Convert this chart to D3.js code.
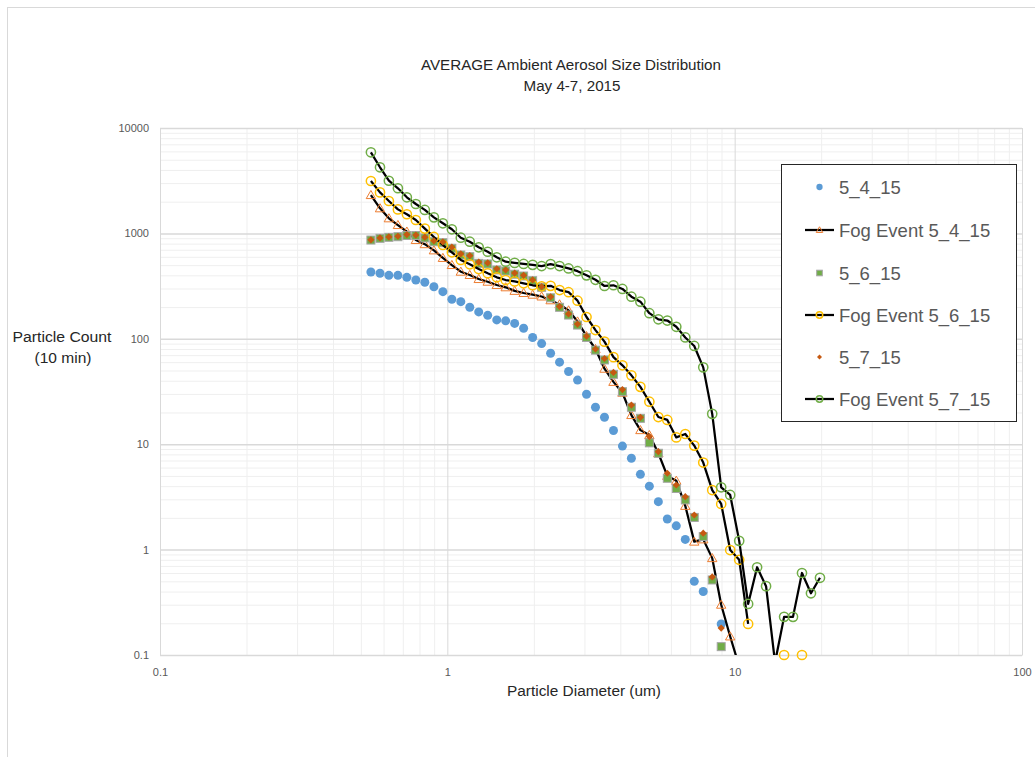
<!DOCTYPE html>
<html><head><meta charset="utf-8">
<script src="https://cdn.jsdelivr.net/npm/d3@7"></script>
<style>body{margin:0;background:#fff;overflow:hidden} svg{display:block}</style>
</head><body>
<script>
// Particle diameter bins (um)
const diameters = [0.542,0.583,0.626,0.673,0.723,0.777,0.835,0.898,0.965,1.037,1.114,1.197,1.286,1.382,1.486,1.596,1.715,1.843,1.981,2.129,2.288,2.458,2.642,2.839,3.051,3.278,3.523,3.786,4.068,4.371,4.698,5.048,5.425,5.829,6.264,6.732,7.234,7.774,8.354,8.977,9.647,10.37,11.14,11.97,12.86,13.82,14.86,15.96,17.15,18.43,19.81];

const s_5_4_15 = [430,419,400,400,383,361,344,312,280,237,225,199,180,167,151,148,140,126,103,90,73,60,49,40.6,29.8,22.4,18.0,13.5,9.6,7.35,5.18,4.0,2.85,1.95,1.68,1.25,0.50,0.40,null,0.197,null,null,null,null,null,null,null,null,null,null,null];
const fog_5_4_15 = [2310,1730,1390,1200,1040,865,790,690,585,501,433,403,369,348,324,308,285,272,262,252,232,212,186,146,106,80,52,39,30.8,18.9,13.6,12.2,8.2,5.0,4.5,2.6,1.19,1.25,0.83,0.30,0.15,0.078,null,null,null,null,null,null,null,null,null];
const s_5_6_15 = [865,898,918,930,955,955,905,834,816,722,624,601,520,513,450,440,410,394,356,308,245,199,168,135,103,78,63,46,31.5,22.4,17.6,10.3,8.2,4.75,3.8,2.96,2.02,1.33,0.515,0.12,null,null,null,null,null,null,null,null,null,null,null];
const fog_5_6_15 = [3140,2450,2030,1690,1520,1340,1110,925,776,662,560,509,459,418,383,361,350,336,322,315,318,290,277,230,161,121,94,67,56,45,35,25.3,18.1,17.0,11.6,12.5,9.7,6.7,3.67,2.71,0.99,0.80,0.197,null,null,null,0.1,null,0.1,null,null];
const s_5_7_15 = [870,905,925,940,975,965,920,850,830,740,640,615,535,525,462,450,420,400,362,312,250,203,172,138,106,80,65,48,33,23.5,18,11.8,8.5,5.3,4.1,3.18,2.13,1.43,0.55,0.18,null,null,null,null,null,null,null,null,null,null,null];
const fog_5_7_15 = [5880,4240,3160,2680,2200,1900,1670,1420,1247,1094,910,834,738,670,593,539,525,513,503,490,511,490,465,438,400,363,317,322,297,251,225,175,153,149,130,103,85.5,53.6,19.4,3.9,3.3,1.21,0.305,0.68,0.45,0.085,0.23,0.23,0.60,0.385,0.54];

const seriesNames = ["5_4_15","Fog Event 5_4_15","5_6_15","Fog Event 5_6_15","5_7_15","Fog Event 5_7_15"];
const xTicks = [0.1,1,10,100];
const xTickLabels = ["0.1","1","10","100"];
const yTicks = [0.1,1,10,100,1000,10000];
const yTickLabels = ["0.1","1","10","100","1000","10000"];
const titleLines = ["AVERAGE Ambient Aerosol Size Distribution","May 4-7, 2015"];
const xTitle = "Particle Diameter (um)";
const yTitleLines = ["Particle Count","(10 min)"];

const W=1035,H=757;
const L=160,R=1022,T=128,B=655;
const svg = d3.select("body").append("svg").attr("width",W).attr("height",H);
const font = "'Liberation Sans', Arial, sans-serif";

// chart area frame
svg.append("rect").attr("x",7.5).attr("y",7.5).attr("width",W+20).attr("height",H+20)
  .attr("fill","#fff").attr("stroke","#d9d9d9").attr("stroke-width",1);

const x = d3.scaleLog().domain([0.1,100]).range([L,R]);
const y = d3.scaleLog().domain([0.1,10000]).range([B,T]);

// minor grid values
const xMinor=[], yMinor=[];
[0.1,1,10].forEach(d=>{for(let k=2;k<=9;k++) xMinor.push(d*k);});
[0.1,1,10,100,1000].forEach(d=>{for(let k=2;k<=9;k++) yMinor.push(d*k);});

const grid = svg.append("g");
grid.append("g").attr("transform",`translate(0,${B})`)
  .call(d3.axisBottom(x).tickValues(xMinor).tickSize(-(B-T)).tickFormat(""))
  .call(g=>{g.select(".domain").remove(); g.selectAll("line").attr("stroke","#efefef").attr("stroke-width",1);});
grid.append("g").attr("transform",`translate(${L},0)`)
  .call(d3.axisLeft(y).tickValues(yMinor).tickSize(-(R-L)).tickFormat(""))
  .call(g=>{g.select(".domain").remove(); g.selectAll("line").attr("stroke","#efefef").attr("stroke-width",1);});
grid.append("g").attr("transform",`translate(0,${B})`)
  .call(d3.axisBottom(x).tickValues(xTicks).tickSize(-(B-T)).tickFormat(""))
  .call(g=>{g.select(".domain").remove(); g.selectAll("line").attr("stroke","#d9d9d9").attr("stroke-width",1);});
grid.append("g").attr("transform",`translate(${L},0)`)
  .call(d3.axisLeft(y).tickValues(yTicks).tickSize(-(R-L)).tickFormat(""))
  .call(g=>{g.select(".domain").remove(); g.selectAll("line").attr("stroke","#d9d9d9").attr("stroke-width",1.5);});

// axis labels
const xAx = svg.append("g").attr("transform",`translate(0,${B})`)
  .call(d3.axisBottom(x).tickValues(xTicks).tickSize(0).tickPadding(13).tickFormat((d,i)=>xTickLabels[i]));
xAx.select(".domain").attr("stroke","#d9d9d9");
xAx.selectAll("text").attr("font-family",font).attr("font-size",11).attr("fill","#595959");
const yAx = svg.append("g").attr("transform",`translate(${L},0)`)
  .call(d3.axisLeft(y).tickValues(yTicks).tickSize(0).tickPadding(11).tickFormat((d,i)=>yTickLabels[i]));
yAx.select(".domain").attr("stroke","#d9d9d9");
yAx.selectAll("text").attr("font-family",font).attr("font-size",11).attr("fill","#595959");

// titles
svg.append("text").attr("x",571).attr("y",70).attr("text-anchor","middle")
  .attr("font-family",font).attr("font-size",14).attr("fill","#262626")
  .attr("textLength",300).attr("lengthAdjust","spacingAndGlyphs").text(titleLines[0]);
svg.append("text").attr("x",572).attr("y",91).attr("text-anchor","middle")
  .attr("font-family",font).attr("font-size",14).attr("fill","#262626")
  .attr("textLength",97).attr("lengthAdjust","spacingAndGlyphs").text(titleLines[1]);
svg.append("text").attr("x",584).attr("y",696).attr("text-anchor","middle")
  .attr("font-family",font).attr("font-size",14).attr("fill","#262626")
  .attr("textLength",154).attr("lengthAdjust","spacingAndGlyphs").text(xTitle);
svg.append("text").attr("x",62).attr("y",342).attr("text-anchor","middle")
  .attr("font-family",font).attr("font-size",14).attr("fill","#262626")
  .attr("textLength",99).attr("lengthAdjust","spacingAndGlyphs").text(yTitleLines[0]);
svg.append("text").attr("x",63).attr("y",363).attr("text-anchor","middle")
  .attr("font-family",font).attr("font-size",14).attr("fill","#262626")
  .attr("textLength",57).attr("lengthAdjust","spacingAndGlyphs").text(yTitleLines[1]);

// clip
svg.append("clipPath").attr("id","plotclip").append("rect")
  .attr("x",L).attr("y",T).attr("width",R-L).attr("height",B-T);

const toPts = arr => arr.map((v,i)=>({d:diameters[i], v:v}));
const line = d3.line().defined(p=>p.v!=null).x(p=>x(p.d)).y(p=>y(p.v));
const visible = p => p.v!=null && p.v>=0.0999 && p.v<=10000;

const sym = {
  dot: (g,pts,sc)=>g.selectAll("circle").data(pts).join("circle").attr("cx",p=>p.x).attr("cy",p=>p.y).attr("r",4.5*sc).attr("fill","#5B9BD5"),
  tri: (g,pts,sc)=>g.selectAll("path").data(pts).join("path").attr("transform",p=>`translate(${p.x},${p.y+0.8*sc})`)
        .attr("d",d3.symbol(d3.symbolTriangle,38*sc*sc)).attr("fill","#fff").attr("fill-opacity",0).attr("stroke","#ED7D31").attr("stroke-width",1),
  sq: (g,pts,sc)=>g.selectAll("rect").data(pts).join("rect").attr("x",p=>p.x-4*sc).attr("y",p=>p.y-4*sc).attr("width",8*sc).attr("height",8*sc)
        .attr("fill","#70AD47").attr("stroke","#A5A5A5").attr("stroke-width",1),
  ycirc: (g,pts,sc)=>g.selectAll("circle").data(pts).join("circle").attr("cx",p=>p.x).attr("cy",p=>p.y).attr("r",4.6*sc).attr("fill","none").attr("stroke","#FFC000").attr("stroke-width",1.5),
  dia: (g,pts,sc)=>g.selectAll("path").data(pts).join("path").attr("transform",p=>`translate(${p.x},${p.y}) rotate(45)`)
        .attr("d",d3.symbol(d3.symbolSquare,26*sc*sc)).attr("fill","#C65911"),
  gcirc: (g,pts,sc)=>g.selectAll("circle").data(pts).join("circle").attr("cx",p=>p.x).attr("cy",p=>p.y).attr("r",4.6*sc).attr("fill","none").attr("stroke","#70AD47").attr("stroke-width",1.5)
};

const series = [
  {name:seriesNames[0], data:s_5_4_15, line:false, m:"dot"},
  {name:seriesNames[1], data:fog_5_4_15, line:true, m:"tri"},
  {name:seriesNames[2], data:s_5_6_15, line:false, m:"sq"},
  {name:seriesNames[3], data:fog_5_6_15, line:true, m:"ycirc"},
  {name:seriesNames[4], data:s_5_7_15, line:false, m:"dia"},
  {name:seriesNames[5], data:fog_5_7_15, line:true, m:"gcirc"}
];

const plot = svg.append("g");
series.forEach(s=>{
  const pts = toPts(s.data);
  const g = plot.append("g");
  if(s.line){
    g.append("path").attr("clip-path","url(#plotclip)").attr("d",line(pts))
      .attr("fill","none").attr("stroke","#000").attr("stroke-width",2.25).attr("stroke-linejoin","round");
  }
  const mp = pts.filter(visible).map(p=>({x:x(p.d), y:y(p.v)}));
  sym[s.m](g.append("g"), mp, 1);
});

// legend
const lg = svg.append("g");
lg.append("rect").attr("x",781.5).attr("y",164.5).attr("width",235).attr("height",257)
  .attr("fill","#fff").attr("stroke","#262626").attr("stroke-width",1);
const legY = [187,230,273,315,357,399];
series.forEach((s,i)=>{
  const gy = legY[i];
  const g = lg.append("g");
  if(s.line){
    g.append("line").attr("x1",805).attr("x2",834).attr("y1",gy).attr("y2",gy).attr("stroke","#000").attr("stroke-width",2.25);
  }
  sym[s.m](g.append("g"), [{x:819.5,y:gy}], 0.7);
  g.append("text").attr("x",839).attr("y",gy+6.5).attr("font-family",font).attr("font-size",18.5)
    .attr("fill","#595959").text(s.name);
});
</script>
</body></html>
